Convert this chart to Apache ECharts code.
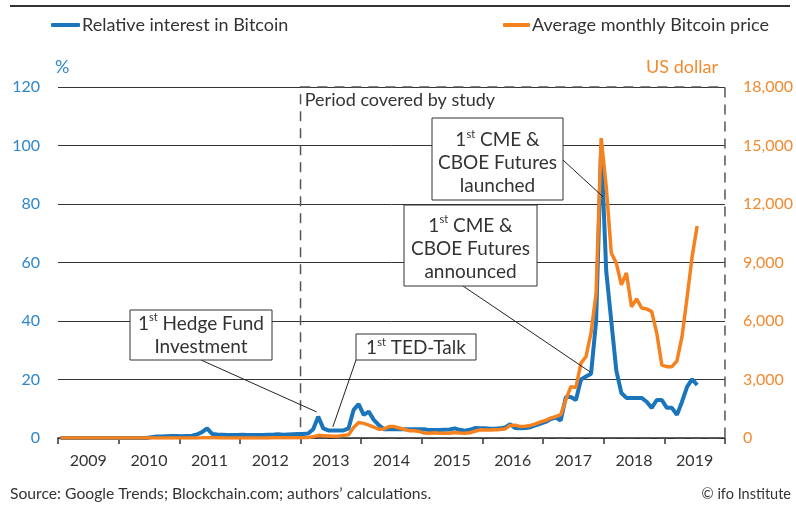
<!DOCTYPE html>
<html>
<head>
<meta charset="utf-8">
<script src="https://cdn.jsdelivr.net/npm/echarts@6/dist/echarts.min.js"></script>
<style>
  html, body { margin: 0; padding: 0; background: #fff; }
  #chart { width: 796px; height: 505px; }
</style>
</head>
<body>
<div id="chart"></div>
<script>
const yearLabels = ['2009', '2010', '2011', '2012', '2013', '2014', '2015', '2016', '2017', '2018', '2019']

// Google Trends, monthly, Jan 2009 .. Jul 2019 (%)
const interest = [
    0, 0, 0, 0, 0, 0, 0, 0, 0, 0, 0, 0,
    0, 0, 0, 0, 0, 0, 0.3, 0.5, 0.5, 0.6, 0.7, 0.7,
    0.6, 0.7, 0.8, 1.2, 2.0, 3.3, 1.4, 1.2, 1.1, 1.0, 1.0, 1.0,
    1.1, 1.0, 1.0, 1.0, 1.0, 1.1, 1.1, 1.3, 1.1, 1.2, 1.3, 1.4,
    1.4, 1.5, 3.0, 7.3, 3.3, 2.6, 2.6, 2.6, 2.6, 3.3, 9.6, 11.6,
    7.9, 9.0, 6.2, 4.4, 3.0, 3.0, 3.0, 3.0, 3.0, 3.0, 3.0, 3.0,
    3.0, 2.7, 2.7, 2.7, 2.8, 2.9, 3.3, 2.8, 2.5, 2.8, 3.4, 3.3,
    3.3, 3.2, 3.2, 3.3, 3.6, 4.7, 3.4, 3.3, 3.4, 3.7, 4.3, 4.9,
    5.5, 6.5, 7.0, 6.0, 14.0, 14.0, 13.0, 20.0, 21.0, 22.0, 40, 100,
    57, 40, 23, 15.4, 13.7, 13.7, 13.7, 13.7, 12.4, 10.3, 13, 13,
    10.3, 10.3, 7.9, 12.4, 17.5, 20.1, 18.1
]

// average monthly price, US dollar, Jan 2009 .. Jul 2019
const priceUsd = [
    0, 0, 0, 0, 0, 0, 0, 0, 0, 0, 0, 0,
    0, 0, 0, 0, 0, 0, 0.06, 0.07, 0.06, 0.1, 0.25, 0.25,
    0.5, 0.9, 0.9, 0.9, 7, 18, 14, 11, 6, 3.5, 2.5, 3,
    6, 5, 5, 5, 5, 6, 8, 10, 11, 11, 11, 13,
    15, 30, 60, 135, 120, 105, 90, 105, 135, 165, 540, 790,
    750, 660, 555, 450, 465, 585, 585, 510, 450, 375, 375, 330,
    255, 240, 270, 240, 240, 240, 285, 255, 240, 270, 345, 420,
    405, 405, 420, 435, 465, 645, 660, 585, 600, 645, 720, 825,
    900, 1020, 1100, 1200, 1950, 2630, 2590, 3840, 4170, 5400, 7440, 15380,
    12890, 9490, 8970, 7850, 8460, 6730, 7130, 6670, 6620, 6480, 5380, 3740,
    3660, 3660, 3960, 5200, 7200, 9300, 10870
]

const FONT = 'Lato'
const BLUE = '#1b75bb'
const BLUE_TXT = '#2e86cc'
const ORANGE = '#f5821f'
const ORANGE_TXT = '#f28a30'
const INK = '#333'

// month index -> x position at the middle of the month
const toPoints = (arr) => arr.map((v, i) => [i + 0.5, v])

const chart = echarts.init(document.getElementById('chart'))

const legendText = {fontSize: 18, color: INK, fontFamily: FONT, padding: [0, 0, 0, -3]}

const option = {
    animation: false,
    textStyle: {fontFamily: FONT},
    grid: {left: 58, right: 71, top: 87, bottom: 67},
    legend: [
        {
            data: ['Relative interest in Bitcoin'],
            left: 51, top: 16, padding: 0,
            itemWidth: 29, itemHeight: 4, icon: 'roundRect',
            textStyle: legendText
        },
        {
            data: ['Average monthly Bitcoin price'],
            left: 503, top: 16, padding: 0,
            itemWidth: 27, itemHeight: 4, icon: 'roundRect',
            textStyle: legendText
        }
    ],
    xAxis: [
        {
            type: 'value', min: 0, max: 132, interval: 12, position: 'bottom',
            axisLine: {show: true, onZero: false, lineStyle: {color: INK, width: 1.5}},
            axisTick: {show: true, length: 6, lineStyle: {color: INK, width: 1.5}},
            axisLabel: {show: false},
            splitLine: {show: false}
        },
        {
            type: 'category', data: yearLabels, position: 'bottom', boundaryGap: true,
            axisLine: {show: false},
            axisTick: {show: false},
            axisLabel: {color: INK, fontSize: 16, margin: 15, fontFamily: FONT},
            splitLine: {show: false}
        }
    ],
    yAxis: [
        {
            type: 'value', min: 0, max: 120, interval: 20, position: 'left',
            axisLine: {show: false}, axisTick: {show: false},
            axisLabel: {color: BLUE_TXT, fontSize: 16, margin: 18, fontFamily: FONT},
            splitLine: {show: true, lineStyle: {color: INK, width: 1}}
        },
        {
            type: 'value', min: 0, max: 18000, interval: 3000, position: 'right',
            axisLine: {show: false}, axisTick: {show: false},
            splitLine: {show: false},
            axisLabel: {
                color: ORANGE_TXT, fontSize: 16, margin: 18, fontFamily: FONT,
                formatter: (v) => v.toLocaleString('en-US')
            }
        }
    ],
    series: [
        {
            name: 'Relative interest in Bitcoin',
            type: 'line',
            xAxisIndex: 0, yAxisIndex: 0,
            data: toPoints(interest),
            showSymbol: false, symbol: 'none',
            lineStyle: {color: BLUE, width: 4},
            itemStyle: {color: BLUE},
            markArea: {
                silent: true,
                itemStyle: {color: 'rgba(0,0,0,0)', borderColor: '#555', borderWidth: 1.5, borderType: [10, 7]},
                label: {
                    show: true, position: 'insideTopLeft', distance: 5,
                    color: INK, fontSize: 18, fontFamily: FONT
                },
                data: [[
                    {name: 'Period covered by study', xAxis: 48, yAxis: 0},
                    {xAxis: 132, yAxis: 120}
                ]]
            }
        },
        {
            name: 'Average monthly Bitcoin price',
            type: 'line',
            xAxisIndex: 0, yAxisIndex: 1,
            data: toPoints(priceUsd),
            showSymbol: false, symbol: 'none',
            lineStyle: {color: ORANGE, width: 3.5},
            itemStyle: {color: ORANGE}
        }
    ]
}

chart.setOption(option)

// annotation boxes (pixels) and where their leader lines point (data coords, left axis)
const sup = (rest) => '{n|1}{s|st}{n|' + rest + '}'
const notes = [
    {lines: [sup(' Hedge Fund'), '{n|Investment}'], box: [130, 310, 142, 50], dy: 0, from: [201, 360], to: [51.2, 8.9]},
    {lines: [sup(' TED-Talk')], box: [356, 334, 120, 26], dy: 1, from: [356, 360], to: [54.4, 3.8]},
    {lines: [sup(' CME &'), '{n|CBOE Futures}', '{n|announced}'], box: [404, 205, 133, 81], dy: 3, from: [463, 286], to: [105.3, 22.6]},
    {lines: [sup(' CME &'), '{n|CBOE Futures}', '{n|launched}'], box: [432, 118, 131, 82], dy: 4, from: [563, 160], to: [107.9, 82.4]}
]

const rich = {
    n: {fontSize: 19, lineHeight: 23, fill: INK, fontFamily: FONT},
    s: {fontSize: 11, lineHeight: 12, fill: INK, fontFamily: FONT, verticalAlign: 'top'}
}

const graphics = [
    {type: 'line', shape: {x1: 10, y1: 6, x2: 790, y2: 6}, style: {stroke: INK, lineWidth: 2}, silent: true},
    {type: 'text', x: 55, y: 67, style: {text: '%', fill: BLUE_TXT, font: '18px ' + FONT, verticalAlign: 'middle'}},
    {type: 'text', x: 718, y: 67, style: {text: 'US dollar', fill: ORANGE_TXT, font: '18px ' + FONT, align: 'right', verticalAlign: 'middle'}},
    {type: 'text', x: 10, y: 494, style: {text: 'Source: Google Trends; Blockchain.com; authors\u2019 calculations.', fill: INK, font: '15.7px ' + FONT, verticalAlign: 'middle'}},
    {type: 'text', x: 791, y: 494, style: {text: '\u00a9 ifo Institute', fill: INK, font: '14.5px ' + FONT, align: 'right', verticalAlign: 'middle'}}
]

notes.forEach((n) => {
    const end = chart.convertToPixel({xAxisIndex: 0, yAxisIndex: 0}, n.to)
    const [bx, by, bw, bh] = n.box
    graphics.push({
        type: 'line', z: 10, silent: true,
        shape: {x1: n.from[0], y1: n.from[1], x2: end[0], y2: end[1]},
        style: {stroke: '#222', lineWidth: 1}
    })
    graphics.push({
        type: 'rect', z: 11, silent: true,
        shape: {x: bx, y: by, width: bw, height: bh},
        style: {fill: '#fff', stroke: '#333', lineWidth: 1}
    })
    graphics.push({
        type: 'text', z: 12, silent: true,
        x: bx + bw / 2, y: by + bh / 2 + n.dy,
        style: {text: n.lines.join('\n'), rich: rich, align: 'center', verticalAlign: 'middle', fill: INK}
    })
})

chart.setOption({graphic: graphics})
</script>
</body>
</html>
